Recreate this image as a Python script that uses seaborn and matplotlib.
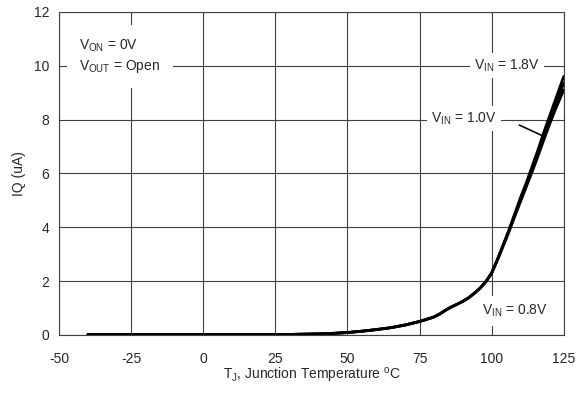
import matplotlib
matplotlib.use("Agg")
import matplotlib.pyplot as plt
import seaborn as sns
import pandas as pd

# junction temperature (degC) and quiescent current (uA) per input voltage
temps = [-40, -25, 0, 25, 30, 35, 40, 45, 50, 55, 60, 65, 70, 75, 78, 80, 82, 84, 86, 88,
         90, 92, 94, 96, 98, 100, 102, 104, 106, 108, 110, 112, 114, 116, 118, 120, 122, 125]
iq_common = [0.02, 0.02, 0.02, 0.02, 0.02, 0.03, 0.04, 0.06, 0.09, 0.14, 0.2, 0.27, 0.37, 0.5,
             0.6, 0.67, 0.78, 0.92, 1.04, 1.14, 1.25, 1.38, 1.55, 1.74, 1.98, 2.3]
iq_08 = iq_common + [2.78, 3.3, 3.83, 4.4, 4.95, 5.5, 6.05, 6.62, 7.22, 7.8, 8.35, 9.1]
iq_10 = iq_common + [2.8, 3.33, 3.87, 4.45, 5.03, 5.57, 6.15, 6.75, 7.38, 7.97, 8.55, 9.35]
iq_18 = iq_common + [2.8, 3.35, 3.9, 4.5, 5.1, 5.65, 6.25, 6.85, 7.5, 8.1, 8.7, 9.6]
vin_labels = ["0.8V", "1.0V", "1.8V"]

x_ticks = [-50, -25, 0, 25, 50, 75, 100, 125]
y_ticks = [0, 2, 4, 6, 8, 10, 12]

df = pd.concat([
    pd.DataFrame({"T": temps, "IQ": vals, "VIN": lab})
    for vals, lab in zip([iq_08, iq_10, iq_18], vin_labels)
])

sns.set_style("white")
plt.rcParams["font.family"] = ["Liberation Sans", "DejaVu Sans"]
plt.rcParams["mathtext.fontset"] = "custom"
plt.rcParams["mathtext.rm"] = "Liberation Sans"
plt.rcParams["mathtext.it"] = "Liberation Sans"
plt.rcParams["axes.unicode_minus"] = False

fig = plt.figure(figsize=(5.86, 4.08), dpi=100)
ax = fig.add_axes([0.101, 0.179, 0.861, 0.792])

sns.lineplot(data=df, x="T", y="IQ", hue="VIN", palette=["black"] * 3,
             linewidth=2.0, legend=False, ax=ax)

ax.set_xlim(-50, 125)
ax.set_ylim(0, 12)
ax.set_xticks(x_ticks)
ax.set_yticks(y_ticks)
ax.grid(True, color="#404040", linewidth=0.8)
ax.set_axisbelow(True)
for s in ax.spines.values():
    s.set_color("#404040")
    s.set_linewidth(0.8)
ax.tick_params(direction="in", length=4, color="#404040", labelsize=10)
ax.tick_params(axis="x", pad=12)
ax.tick_params(axis="y", pad=7)

ax.set_xlabel(r"T$_\mathregular{J}$, Junction Temperature $^\mathregular{o}$C", fontsize=10, labelpad=0)
ax.set_ylabel("IQ (uA)", fontsize=10, labelpad=6)

ax.text(-43, 10.35, r"V$_\mathregular{ON}$ = 0V" + "\n" + r"V$_\mathregular{OUT}$ = Open",
        fontsize=10, va="center", ha="left", linespacing=1.4,
        bbox=dict(facecolor="white", edgecolor="none", boxstyle="square,pad=0.9"))
ax.text(94, 10.0, r"V$_\mathregular{IN}$ = 1.8V", fontsize=10, va="center", ha="left",
        bbox=dict(facecolor="white", edgecolor="none", boxstyle="square,pad=0.3"))
ax.text(79, 8.03, r"V$_\mathregular{IN}$ = 1.0V", fontsize=10, va="center", ha="left",
        bbox=dict(facecolor="white", edgecolor="none", boxstyle="square,pad=0.3"))
ax.text(96.5, 0.89, r"V$_\mathregular{IN}$ = 0.8V", fontsize=10, va="center", ha="left",
        bbox=dict(facecolor="white", edgecolor="none", boxstyle="square,pad=0.5"))
ax.annotate("", xy=(118.4, 7.36), xytext=(108.7, 7.84),
            arrowprops=dict(arrowstyle="-", color="black", linewidth=1.2))

fig.savefig("out.png", dpi=100)
